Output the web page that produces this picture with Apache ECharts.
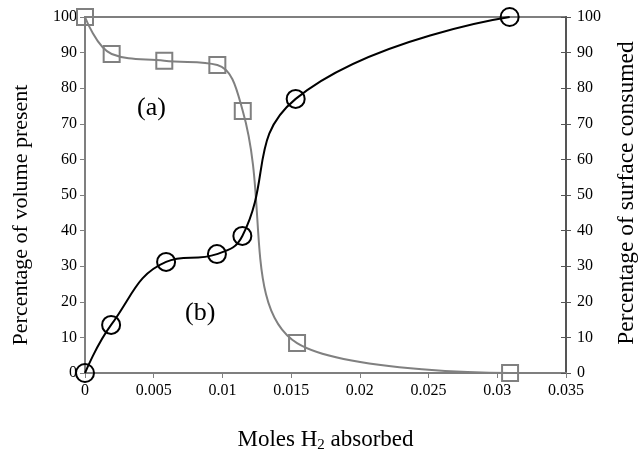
<!DOCTYPE html>
<html>
<head>
<meta charset="utf-8">
<script src="https://cdn.jsdelivr.net/npm/echarts@6/dist/echarts.min.js"></script>
<style>
html,body{margin:0;padding:0;background:#fff;}
#chart{width:641px;height:451px;}
</style>
</head>
<body>
<div id="chart"></div>
<script>
// (a) Percentage of volume present (gray squares)
var volX = [0, 0.00194, 0.00577, 0.00963, 0.01148, 0.01543, 0.03093];
var volY = [100, 89.6, 87.7, 86.5, 73.6, 8.4, 0];
// (b) Percentage of surface consumed (black circles)
var surfX = [0, 0.0019, 0.0059, 0.0096, 0.01145, 0.01533, 0.0309];
var surfY = [0, 13.5, 31.2, 33.4, 38.5, 77.0, 100];
var xTicks = [0, 0.005, 0.01, 0.015, 0.02, 0.025, 0.03, 0.035];
var yTicks = [0, 10, 20, 30, 40, 50, 60, 70, 80, 90, 100];

function pairs(xs, ys) { return xs.map(function (x, i) { return [x, ys[i]]; }); }

var font = '"Liberation Serif", "Times New Roman", serif';
var axisGray = '#7f7f7f';
var chart = echarts.init(document.getElementById('chart'));
chart.setOption({
  animation: false,
  backgroundColor: '#fff',
  grid: {left: 85, right: 75, top: 17, bottom: 78, containLabel: false, outerBoundsMode: 'none',
    show: true, borderColor: axisGray, borderWidth: 2},
  xAxis: {
    type: 'value', min: xTicks[0], max: xTicks[xTicks.length - 1], interval: 0.005,
    splitLine: {show: false},
    axisLine: {lineStyle: {color: axisGray, width: 2}},
    axisTick: {length: 5, lineStyle: {color: axisGray}},
    axisLabel: {color: '#000', fontFamily: font, fontSize: 16, margin: 10,
      formatter: function (v) { return String(+v.toFixed(3)); }},
    name: '{a|Moles H}{s|2}{a| absorbed}',
    nameLocation: 'middle', nameGap: 53,
    nameTextStyle: {rich: {
      a: {fontFamily: font, fontSize: 23, color: '#000'},
      s: {fontFamily: font, fontSize: 15, color: '#000', verticalAlign: 'bottom', padding: [12, 0, 0, 0]}
    }}
  },
  yAxis: [{
    type: 'value', min: yTicks[0], max: yTicks[yTicks.length - 1], interval: 10, position: 'left',
    splitLine: {show: false},
    axisLine: {show: true, lineStyle: {color: axisGray, width: 2}},
    axisTick: {show: true, length: 5, lineStyle: {color: axisGray}},
    axisLabel: {color: '#000', fontFamily: font, fontSize: 16, margin: 8},
    name: 'Percentage of volume present', nameLocation: 'middle', nameGap: 53,
    nameTextStyle: {fontFamily: font, fontSize: 22, color: '#000', padding: [0, 40, 0, 0]}
  }, {
    type: 'value', min: yTicks[0], max: yTicks[yTicks.length - 1], interval: 10, position: 'right',
    splitLine: {show: false},
    axisLine: {show: true, lineStyle: {color: '#555', width: 2}},
    axisTick: {show: true, length: 5, lineStyle: {color: '#555'}},
    axisLabel: {color: '#000', fontFamily: font, fontSize: 16, margin: 11},
    name: 'Percentage of surface consumed', nameLocation: 'middle', nameGap: 49,
    nameTextStyle: {fontFamily: font, fontSize: 23.5, color: '#000', padding: [0, 0, 0, 4]}
  }, {
    type: 'value', min: yTicks[0], max: yTicks[yTicks.length - 1], interval: 10, position: 'right',
    splitLine: {show: false},
    axisLine: {show: false},
    axisTick: {show: true, inside: true, length: 5, lineStyle: {color: '#555'}},
    axisLabel: {show: false}
  }],
  series: [{
    type: 'line', yAxisIndex: 0, data: pairs(volX, volY), smooth: 0.4,
    symbol: 'rect', symbolSize: 16,
    lineStyle: {color: '#808080', width: 2},
    itemStyle: {color: 'rgba(255,255,255,0)', borderColor: '#808080', borderWidth: 2}
  }, {
    type: 'line', yAxisIndex: 1, data: pairs(surfX, surfY), smooth: 0.45,
    symbol: 'circle', symbolSize: 18,
    lineStyle: {color: '#000', width: 2},
    itemStyle: {color: 'rgba(255,255,255,0)', borderColor: '#000', borderWidth: 2}
  }],
  graphic: [
    {type: 'text', left: 137, top: 95, style: {text: '(a)', font: '26px ' + font, fill: '#000'}},
    {type: 'text', left: 185, top: 300, style: {text: '(b)', font: '26px ' + font, fill: '#000'}}
  ]
});
</script>
</body>
</html>
